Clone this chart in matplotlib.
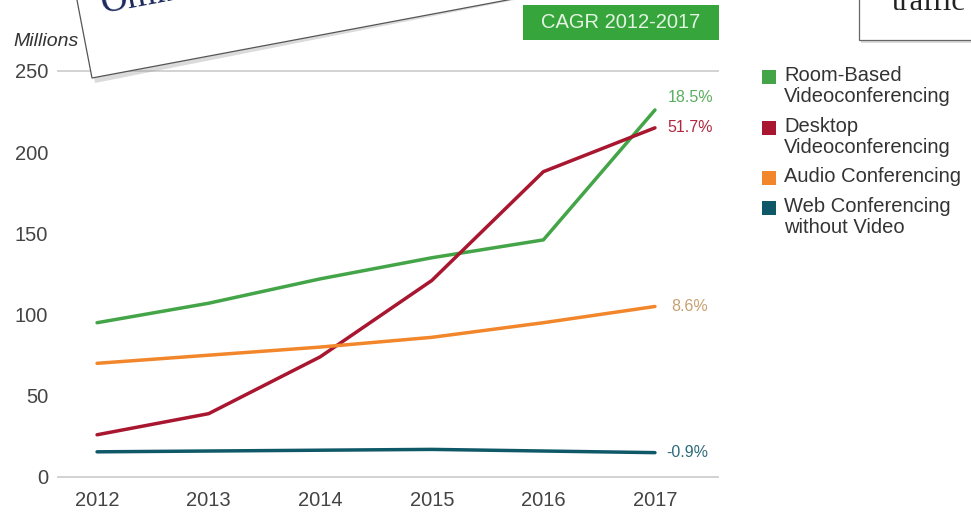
import matplotlib.pyplot as plt
from matplotlib.patches import Polygon, Rectangle

years = [2012, 2013, 2014, 2015, 2016, 2017]
room_based = [95, 107, 122, 135, 146, 226]
desktop = [26, 39, 74, 121, 188, 215]
audio = [70, 75, 80, 86, 95, 105]
web = [15.5, 16, 16.5, 17, 16, 15]

series = [room_based, desktop, audio, web]
colors = ['#43a547', '#a8162f', '#f2862b', '#0e5868']
cagr = ['18.5%', '51.7%', '8.6%', '-0.9%']
cagr_colors = ['#5aae5e', '#b0283f', '#c8a070', '#2c6b7a']
labels = ['Room-Based\nVideoconferencing', 'Desktop\nVideoconferencing',
          'Audio Conferencing', 'Web Conferencing\nwithout Video']
yticks = [0, 50, 100, 150, 200, 250]

W, H = 971, 512


def px(x, y):
    return (x / W, 1 - y / H)


fig = plt.figure(figsize=(9.71, 5.12), dpi=100)
plt.rcParams['font.family'] = ['Liberation Sans', 'DejaVu Sans']

ax = fig.add_axes([58 / W, 35 / H, 660 / W, 406 / H])
for s, c in zip(series, colors):
    ax.plot(years, s, color=c, linewidth=2.5, solid_capstyle='round')

# CAGR labels at the line ends
offsets = [(9, 9), (9, 0), (12, 0), (8, 0)]
for s, t, c, off in zip(series, cagr, cagr_colors, offsets):
    ax.annotate(t, (years[-1], s[-1]), xytext=off, textcoords='offset points',
                color=c, fontsize=11.5, va='center', ha='left', annotation_clip=False)

ax.set_xlim(2011.65, 2017.565)
ax.set_ylim(0, 250)
ax.set_xticks(years)
ax.set_yticks(yticks)
ax.tick_params(length=0, labelsize=14.5, colors='#444444')
ax.tick_params(axis='x', pad=10)
ax.tick_params(axis='y', pad=7)
for side in ['left', 'right']:
    ax.spines[side].set_visible(False)
for side in ['top', 'bottom']:
    ax.spines[side].set_color('#cfcfcf')
    ax.spines[side].set_linewidth(1.3)

fig.text(*px(13, 42), 'Millions', fontsize=14, style='italic', color='#333333', va='center')

# CAGR header box
fig.patches.append(Rectangle(px(523, 40), 196 / W, 35 / H, transform=fig.transFigure,
                             facecolor='#36a53c', edgecolor='none', zorder=3))
fig.text(*px(621, 22), 'CAGR 2012-2017', fontsize=14.5, color='#e4f4e2',
         ha='center', va='center', zorder=4)

# legend
entry_y = [77, 128, 178, 208]
for yy, lab, c in zip(entry_y, labels, colors):
    fig.patches.append(Rectangle(px(762, yy + 7), 14 / W, 14 / H, transform=fig.transFigure,
                                 facecolor=c, edgecolor='none'))
    fig.text(*px(784, yy - 11), lab, fontsize=14.5, color='#333333', va='top',
             linespacing=1.12)

# pasted paper notes over the top of the chart
shadow = Polygon([px(80, -5), px(95, 83), px(540, -5)], closed=True,
                 transform=fig.transFigure, facecolor='#999999', alpha=0.35,
                 edgecolor='none', zorder=8)
paper = Polygon([px(76, -5), px(92, 78), px(534, -5)], closed=True,
                transform=fig.transFigure, facecolor='white', edgecolor='#555555',
                linewidth=0.9, zorder=9)
fig.patches.extend([shadow, paper])
fig.text(*px(103, 13), 'Omni', fontsize=27, family=['Liberation Serif', 'DejaVu Serif'],
         color='#1d2b5c', rotation=10.6, rotation_mode='anchor', va='baseline', zorder=10)

shadow2 = Rectangle(px(861, 43), 120 / W, 50 / H, transform=fig.transFigure,
                    facecolor='#999999', alpha=0.35, edgecolor='none', zorder=8)
paper2 = Rectangle(px(859, 40), 120 / W, 50 / H, transform=fig.transFigure,
                   facecolor='white', edgecolor='#666666', linewidth=0.9, zorder=9)
fig.patches.extend([shadow2, paper2])
fig.text(*px(892, 10), 'traffic', fontsize=22, family=['Liberation Serif', 'DejaVu Serif'],
         color='#222222', va='baseline', zorder=10)

fig.savefig('out.png', dpi=100)
